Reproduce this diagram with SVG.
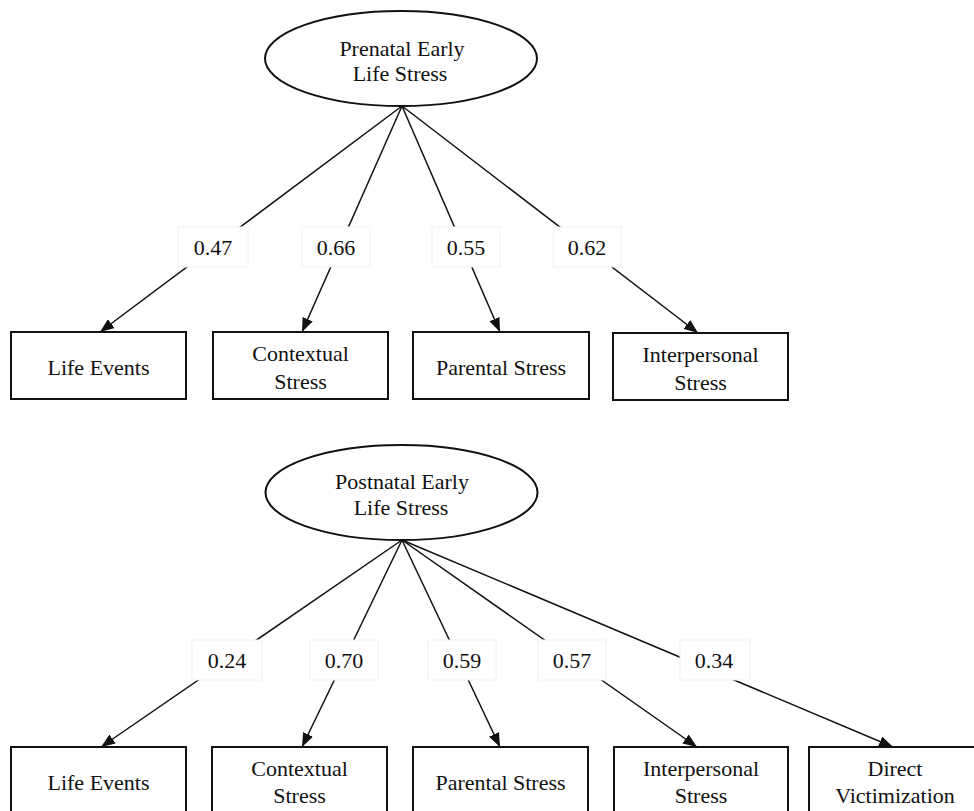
<svg xmlns="http://www.w3.org/2000/svg" width="974" height="811" viewBox="0 0 974 811">
<defs>
<style>
.t{font-family:"Liberation Serif","Times New Roman",serif;font-size:22px;fill:#111;text-anchor:middle}
.n{fill:#fff;stroke:#111;stroke-width:2}
.e{stroke:#111;stroke-width:1.5;fill:none}
.lb{fill:#fff;stroke:#f2f2f2;stroke-width:1}
</style>
<marker id="ah" viewBox="0 0 14 11" refX="14" refY="5.5" markerWidth="14" markerHeight="11" markerUnits="userSpaceOnUse" orient="auto">
<path d="M0,0 L14,5.5 L0,11 z" fill="#111"/>
</marker>
</defs>
<rect width="974" height="811" fill="#fff"/>

<g id="connectors">
<line class="e" x1="402" y1="106" x2="100" y2="332" marker-end="url(#ah)"/>
<line class="e" x1="402" y1="106" x2="302" y2="332" marker-end="url(#ah)"/>
<line class="e" x1="402" y1="106" x2="500" y2="332" marker-end="url(#ah)"/>
<line class="e" x1="402" y1="106" x2="698" y2="333" marker-end="url(#ah)"/>
<rect class="lb" x="178" y="227" width="70" height="40"/><text class="t" x="213" y="255">0.47</text>
<rect class="lb" x="302" y="227" width="68" height="40"/><text class="t" x="336" y="255">0.66</text>
<rect class="lb" x="432" y="227" width="68" height="40"/><text class="t" x="466" y="255">0.55</text>
<rect class="lb" x="553" y="227" width="68" height="40"/><text class="t" x="587" y="255">0.62</text>

<line class="e" x1="402" y1="540" x2="101" y2="747" marker-end="url(#ah)"/>
<line class="e" x1="402" y1="540" x2="302" y2="747" marker-end="url(#ah)"/>
<line class="e" x1="402" y1="540" x2="500" y2="747" marker-end="url(#ah)"/>
<line class="e" x1="402" y1="540" x2="697" y2="747" marker-end="url(#ah)"/>
<line class="e" x1="402" y1="540" x2="893" y2="747" marker-end="url(#ah)"/>
<rect class="lb" x="192" y="640" width="70" height="40"/><text class="t" x="227" y="668">0.24</text>
<rect class="lb" x="310" y="640" width="68" height="40"/><text class="t" x="344" y="668">0.70</text>
<rect class="lb" x="428" y="640" width="68" height="40"/><text class="t" x="462" y="668">0.59</text>
<rect class="lb" x="538" y="640" width="68" height="40"/><text class="t" x="572" y="668">0.57</text>
<rect class="lb" x="680" y="640" width="70" height="40"/><text class="t" x="714" y="668">0.34</text>
</g>

<g id="prenatal">
<ellipse class="n" cx="401" cy="58.5" rx="136" ry="47.5"/>
<text class="t" x="402" y="56">Prenatal  Early</text>
<text class="t" x="400" y="81">Life Stress</text>
</g>
<g id="pre-life-events">
<rect class="n" x="11" y="332" width="175" height="67"/>
<text class="t" x="98.5" y="375">Life Events</text>
</g>
<g id="pre-contextual">
<rect class="n" x="213" y="332" width="175" height="67"/>
<text class="t" x="300.5" y="361">Contextual</text>
<text class="t" x="300.5" y="389">Stress</text>
</g>
<g id="pre-parental">
<rect class="n" x="413" y="332" width="176" height="67"/>
<text class="t" x="501" y="375">Parental Stress</text>
</g>
<g id="pre-interpersonal">
<rect class="n" x="613" y="333" width="175" height="67"/>
<text class="t" x="700.5" y="362">Interpersonal</text>
<text class="t" x="700.5" y="390">Stress</text>
</g>

<g id="postnatal">
<ellipse class="n" cx="401.5" cy="492.5" rx="136" ry="47.5"/>
<text class="t" x="402" y="489">Postnatal Early</text>
<text class="t" x="401" y="515">Life Stress</text>
</g>
<g id="post-life-events">
<rect class="n" x="11" y="747" width="175" height="67"/>
<text class="t" x="98.5" y="790">Life Events</text>
</g>
<g id="post-contextual">
<rect class="n" x="212" y="747" width="175" height="67"/>
<text class="t" x="299.5" y="776">Contextual</text>
<text class="t" x="299.5" y="803">Stress</text>
</g>
<g id="post-parental">
<rect class="n" x="413" y="747" width="175" height="67"/>
<text class="t" x="500.5" y="790">Parental Stress</text>
</g>
<g id="post-interpersonal">
<rect class="n" x="614" y="747" width="174" height="67"/>
<text class="t" x="701" y="776">Interpersonal</text>
<text class="t" x="701" y="803">Stress</text>
</g>
<g id="post-direct">
<rect class="n" x="809" y="747" width="173" height="67"/>
<text class="t" x="895" y="776">Direct</text>
<text class="t" x="895" y="803">Victimization</text>
</g>
</svg>
